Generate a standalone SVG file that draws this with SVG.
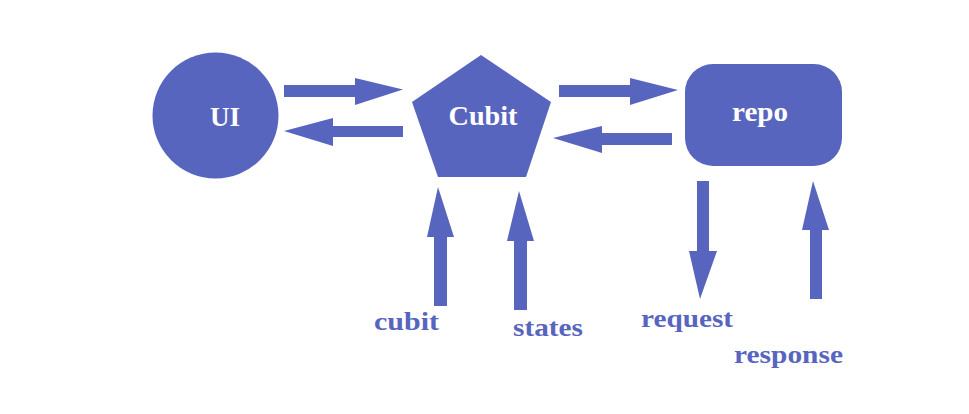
<svg xmlns="http://www.w3.org/2000/svg" width="969" height="414" viewBox="0 0 969 414">
<style>
.shape{fill:#5865BF}
.arrow{fill:#5865BF}
.nt{fill:#ffffff;font-family:"Liberation Serif",serif;font-weight:bold;font-size:28px;text-anchor:middle}
.lbl{fill:#5865BF;font-family:"Liberation Serif",serif;font-weight:bold;font-size:25px}
</style>
<rect width="969" height="414" fill="#ffffff"/>
<g id="ui">
<circle class="shape" cx="215.5" cy="115.5" r="63"/>
<text class="nt" x="225" y="126" textLength="30" lengthAdjust="spacingAndGlyphs">UI</text>
</g>
<g id="cubit">
<polygon class="shape" points="481,55 551,102 526,177 438,177 412,102"/>
<text class="nt" x="483" y="125" textLength="69" lengthAdjust="spacingAndGlyphs">Cubit</text>
</g>
<g id="repo">
<rect class="shape" x="685" y="64" width="157" height="102" rx="28" ry="28"/>
<text class="nt" x="760" y="121" textLength="56" lengthAdjust="spacingAndGlyphs">repo</text>
</g>
<g id="connectors">
<polygon class="arrow" points="284,85 355,85 355,78 403,89.5 355,105 355,97 284,97"/>
<polygon class="arrow" points="403,126 333,126 333,118 284,131 333,146 333,137 403,137"/>
<polygon class="arrow" points="559,85 630,85 630,78 678,90 630,105 630,97 559,97"/>
<polygon class="arrow" points="672,133 602,133 602,126 553,138 602,153 602,145 672,145"/>
<polygon class="arrow" points="434,306 434,237 427,237 438,187 454,237 447,237 447,306"/>
<polygon class="arrow" points="514,310 514,241 507,241 519,191 534,241 527,241 527,310"/>
<polygon class="arrow" points="697,181 709,181 709,251 717,251 700,299 689,251 697,251"/>
<polygon class="arrow" points="810,299 810,230 802,230 813,181 829,230 822,230 822,299"/>
</g>
<g id="labels">
<text class="lbl" x="374" y="330" textLength="65" lengthAdjust="spacingAndGlyphs">cubit</text>
<text class="lbl" x="513" y="336" textLength="70" lengthAdjust="spacingAndGlyphs">states</text>
<text class="lbl" x="641" y="327" textLength="92" lengthAdjust="spacingAndGlyphs">request</text>
<text class="lbl" x="734" y="363" textLength="109" lengthAdjust="spacingAndGlyphs">response</text>
</g>
</svg>
